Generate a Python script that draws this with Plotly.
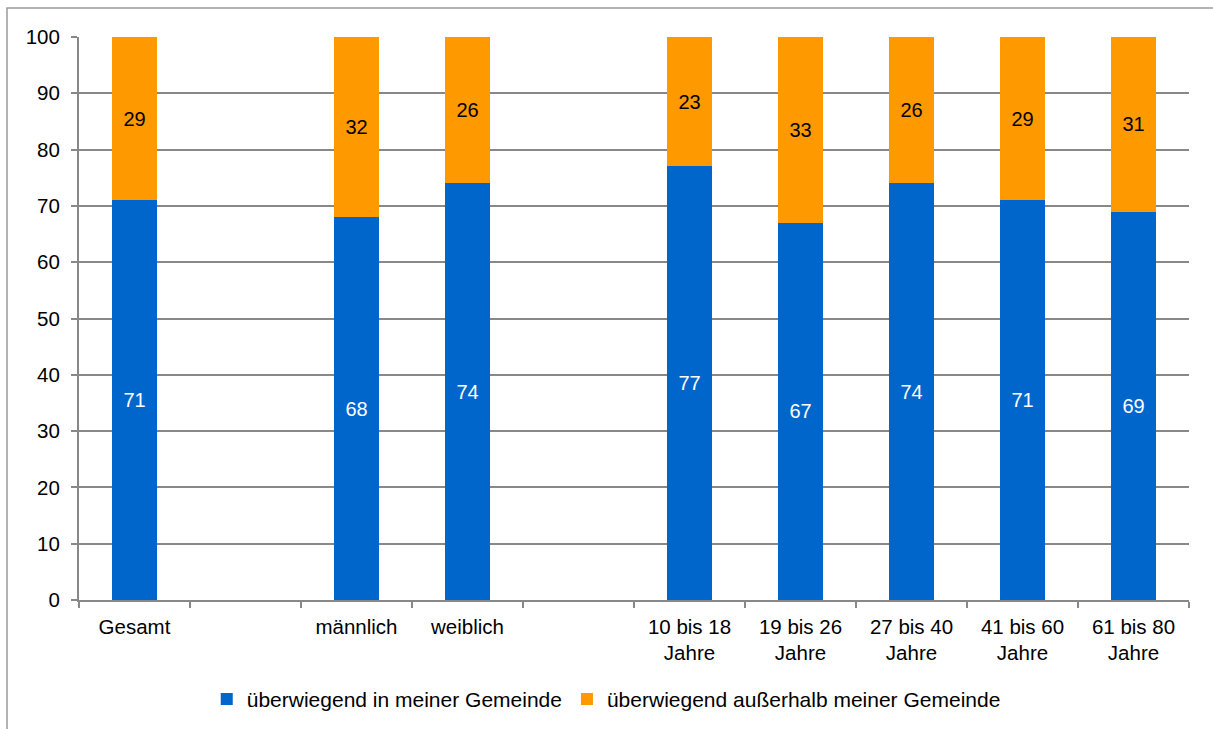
import plotly.graph_objects as go

categories = ["Gesamt", " ", "männlich", "weiblich", "  ",
              "10 bis 18<br>Jahre", "19 bis 26<br>Jahre", "27 bis 40<br>Jahre",
              "41 bis 60<br>Jahre", "61 bis 80<br>Jahre"]
in_gemeinde = [71, None, 68, 74, None, 77, 67, 74, 71, 69]
ausserhalb = [29, None, 32, 26, None, 23, 33, 26, 29, 31]
y_ticks = [0, 10, 20, 30, 40, 50, 60, 70, 80, 90, 100]

BLUE = "#0066CC"
ORANGE = "#FF9900"
FONT = "Liberation Sans, Arial, sans-serif"
FS = 21

fig = go.Figure()
fig.add_trace(go.Bar(
    x=categories, y=in_gemeinde, name="überwiegend in meiner Gemeinde",
    marker=dict(color=BLUE, line=dict(width=0)), width=0.4,
    text=[str(v) if v is not None else "" for v in in_gemeinde],
    textposition="inside", insidetextanchor="middle",
    textfont=dict(color="white", size=20, family=FONT), textangle=0,
))
fig.add_trace(go.Bar(
    x=categories, y=ausserhalb, name="überwiegend außerhalb meiner Gemeinde",
    marker=dict(color=ORANGE, line=dict(width=0)), width=0.4,
    text=[str(v) if v is not None else "" for v in ausserhalb],
    textposition="inside", insidetextanchor="middle",
    textfont=dict(color="black", size=20, family=FONT), textangle=0,
))

L, R, T, B = 79, 24, 37, 129
W, H = 1213, 729
pw, ph = W - L - R, H - T - B

fig.update_layout(
    barmode="stack",
    width=W, height=H,
    margin=dict(l=L, r=R, t=T, b=B, autoexpand=False),
    plot_bgcolor="white", paper_bgcolor="white",
    font=dict(family=FONT, size=FS, color="black"),
    showlegend=True,
    legend=dict(orientation="h", x=0.475, xanchor="center", y=-0.14, yanchor="top",
                font=dict(size=FS, family=FONT), itemwidth=30,
                traceorder="normal"),
    xaxis=dict(type="category", categoryorder="array", categoryarray=categories,
               showgrid=False, showline=True, linecolor="#888888", linewidth=2,
               ticks="outside", tickson="boundaries", ticklen=6, tickcolor="#888888",
               tickwidth=2, tickfont=dict(size=20.5, family=FONT), ticklabelstandoff=7,
               automargin=False),
    yaxis=dict(range=[0, 100], tickvals=y_ticks, showgrid=True, gridcolor="#888888",
               gridwidth=2, showline=True, linecolor="#888888", linewidth=2,
               ticks="outside", ticklen=6, tickcolor="#888888", tickwidth=2,
               tickfont=dict(size=20.5, family=FONT), zeroline=False,
               ticklabelstandoff=7, automargin=False),
    # outer frame around the chart, top edge 8px below the page top
    shapes=[dict(type="rect", xref="paper", yref="paper",
                 x0=(7 - L) / pw, x1=(W + 20 - L) / pw,
                 y0=-(B + 20) / ph, y1=1 + (T - 8) / ph,
                 line=dict(color="#9a9a9a", width=1.5), layer="below")],
)

fig.write_html("out.html")
